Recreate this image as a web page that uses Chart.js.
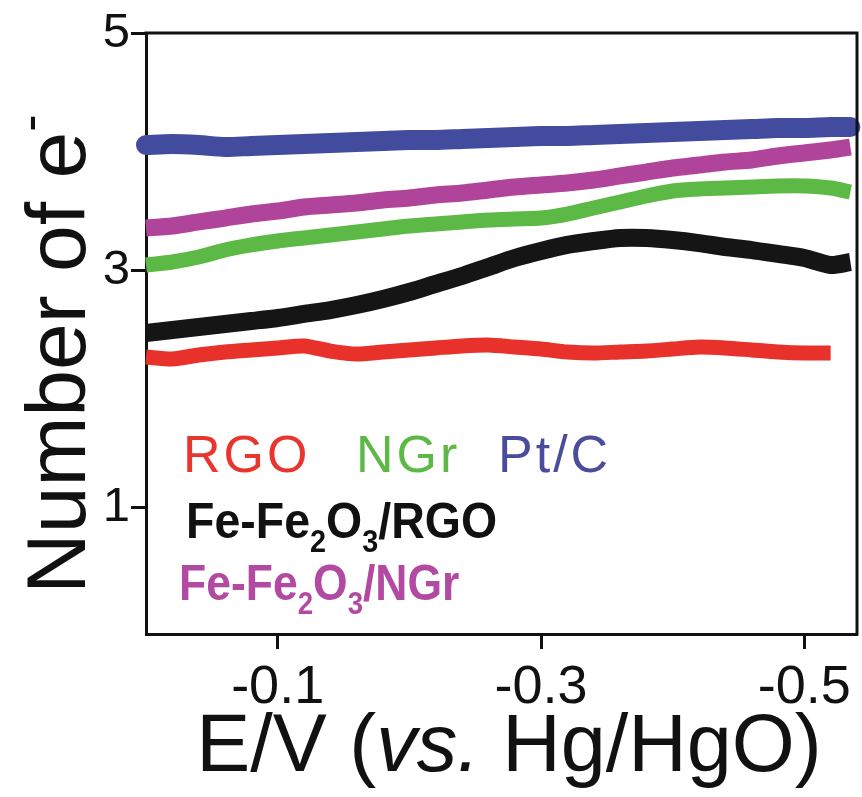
<!DOCTYPE html>
<html><head><meta charset="utf-8">
<script src="https://cdn.jsdelivr.net/npm/chart.js@4.4.0/dist/chart.umd.min.js"></script>
<style>html,body{margin:0;padding:0;background:#fff}#wrap{width:862px;height:797px}</style>
</head><body><div id="wrap"><canvas id="c" width="862" height="797"></canvas></div>
<script>
// ---- data (E in V vs Hg/HgO, number of electrons) ----
const potential = [0,-0.02,-0.04,-0.06,-0.08,-0.10,-0.12,-0.14,-0.16,-0.18,-0.20,-0.22,-0.24,-0.26,-0.28,-0.30,-0.32,-0.34,-0.36,-0.38,-0.40,-0.42,-0.44,-0.46,-0.48,-0.50,-0.52,-0.535];
const rgo      = [2.267,2.250,2.284,2.309,2.326,2.343,2.360,2.317,2.292,2.309,2.326,2.343,2.360,2.368,2.351,2.334,2.309,2.300,2.309,2.317,2.334,2.351,2.343,2.326,2.309,2.300,2.300,null];
const ngr      = [3.043,3.068,3.110,3.169,3.212,3.245,3.271,3.296,3.321,3.347,3.372,3.389,3.406,3.422,3.431,3.439,3.473,3.524,3.574,3.625,3.667,3.684,3.692,3.701,3.709,3.709,3.692,3.659];
const ptc      = [4.055,4.064,4.055,4.038,4.047,4.055,4.064,4.072,4.080,4.089,4.097,4.097,4.106,4.114,4.123,4.131,4.131,4.140,4.148,4.156,4.165,4.173,4.182,4.190,4.199,4.199,4.207,4.207];
const feRgo    = [2.469,2.495,2.520,2.545,2.570,2.596,2.630,2.663,2.705,2.756,2.815,2.883,2.950,3.026,3.102,3.161,3.212,3.245,3.271,3.271,3.254,3.228,3.195,3.169,3.136,3.102,3.043,3.068];
const feNgr    = [3.355,3.372,3.406,3.439,3.473,3.498,3.532,3.549,3.566,3.591,3.608,3.633,3.650,3.676,3.701,3.718,3.735,3.760,3.794,3.827,3.861,3.886,3.912,3.929,3.962,3.988,4.013,4.038];
const seriesNames = ['RGO','NGr','Pt/C','Fe-Fe2O3/RGO','Fe-Fe2O3/NGr'];
const xTickValues = [-0.1,-0.3,-0.5];
const yTickValues = [1,3,5];

const FAMILY = "'Liberation Sans', Arial, Helvetica, sans-serif";
const toPts = arr => potential.map((x,i)=>({x:x, y:arr[i]})).filter(p=>p.y!==null);

function drawRich(ctx, x, y, parts, size, weight, color, sx, align){
  ctx.save();
  ctx.fillStyle = color; ctx.textBaseline = 'alphabetic'; ctx.textAlign = 'left';
  const fontFor = p => {
    const s = (p.sub||p.sup) ? size*0.62 : size;
    return `${p.italic?'italic ':''}${weight} ${s}px ${FAMILY}`;
  };
  let total = 0;
  for (const p of parts){ ctx.font = fontFor(p); total += ctx.measureText(p.t).width; }
  ctx.translate(x, y); ctx.scale(sx, 1);
  let cx = align==='center' ? -total/2 : 0;
  for (const p of parts){
    ctx.font = fontFor(p);
    const dy = p.sub ? size*0.28 : p.sup ? -size*0.45 : 0;
    ctx.fillText(p.t, cx, dy);
    cx += ctx.measureText(p.t).width;
  }
  ctx.restore();
}
function formulaParts(name){
  const out = [];
  for (const seg of name.split(/(\d)/)) { if (!seg) continue; out.push(/^\d$/.test(seg)?{t:seg,sub:true}:{t:seg}); }
  return out;
}

const overlay = {
  id:'overlay',
  afterDraw(chart){
    const ctx = chart.ctx, a = chart.chartArea;
    ctx.save();
    ctx.strokeStyle = '#111'; ctx.lineWidth = 3;
    ctx.beginPath();
    ctx.moveTo(a.left-1.5, a.top); ctx.lineTo(a.right, a.top); ctx.lineTo(a.right, a.bottom+1.5);
    ctx.stroke();
    ctx.restore();
    // x title
    drawRich(ctx, 509, 771, [{t:'E/V ('},{t:'vs.',italic:true},{t:' Hg/HgO)'}], 81, 'normal', '#111', 1, 'center');
    // y title (rotated)
    ctx.save();
    ctx.translate(85, 594); ctx.rotate(-Math.PI/2);
    drawRich(ctx, 0, 0, [{t:'Number of e'},{t:'-',sup:true}], 84, 'normal', '#111', 1, 'left');
    ctx.restore();
    // in-plot labels
    ctx.save();
    ctx.letterSpacing = '3px';
    drawRich(ctx, 183, 472, [{t:seriesNames[0]}], 52, 'normal', '#e8352e', 1, 'left');
    drawRich(ctx, 356, 472, [{t:seriesNames[1]}], 52, 'normal', '#5cb946', 1, 'left');
    drawRich(ctx, 498, 472, [{t:seriesNames[2]}], 52, 'normal', '#4a4c9c', 1, 'left');
    ctx.restore();
    drawRich(ctx, 186, 538, formulaParts(seriesNames[3]), 50, 'bold', '#111111', 0.93, 'left');
    drawRich(ctx, 179, 600, formulaParts(seriesNames[4]), 50, 'bold', '#b24aa2', 0.89, 'left');
  }
};

const mk = (label, arr, color, w, cap) => ({
  label, data: toPts(arr), borderColor: color, backgroundColor: color,
  borderWidth: w, pointRadius: 0, tension: 0.25, fill: false,
  borderCapStyle: cap || 'butt', borderJoinStyle: 'round', clip: false
});

new Chart(document.getElementById('c'), {
  type: 'line',
  data: { datasets: [
    mk(seriesNames[0], rgo, '#e8312a', 15),
    mk(seriesNames[1], ngr, '#5cb946', 15),
    mk(seriesNames[3], feRgo, '#151515', 18),
    mk(seriesNames[4], feNgr, '#b0449a', 17),
    mk(seriesNames[2], ptc, '#434b9e', 20, 'round')
  ]},
  options: {
    responsive: false, animation: false, devicePixelRatio: 1,
    layout: { padding: { top: 33, right: 5, left: 0, bottom: 0 } },
    plugins: { legend: { display: false }, tooltip: { enabled: false } },
    scales: {
      x: {
        type: 'linear', reverse: true, min: -0.54, max: 0,
        afterBuildTicks: s => { s.ticks = xTickValues.map(v => ({ value: v })); },
        afterFit: s => { s.height = 163; },
        grid: { drawOnChartArea: false, drawTicks: true, tickLength: 15, tickWidth: 3, color: '#111' },
        border: { display: true, width: 3, color: '#111' },
        ticks: { font: { size: 54, family: FAMILY }, color: '#111', padding: 7, maxRotation: 0, autoSkip: false,
                 callback: v => Number(v).toFixed(1) }
      },
      y: {
        type: 'linear', min: -0.07, max: 5,
        afterBuildTicks: s => { s.ticks = yTickValues.map(v => ({ value: v })); },
        afterFit: s => { s.width = 146; },
        grid: { drawOnChartArea: false, drawTicks: true, tickLength: 15, tickWidth: 3, color: '#111' },
        border: { display: true, width: 3, color: '#111' },
        ticks: { font: { size: 49, family: FAMILY }, color: '#111', padding: 1, autoSkip: false,
                 callback: v => String(v) }
      }
    }
  },
  plugins: [overlay]
});
</script></body></html>
